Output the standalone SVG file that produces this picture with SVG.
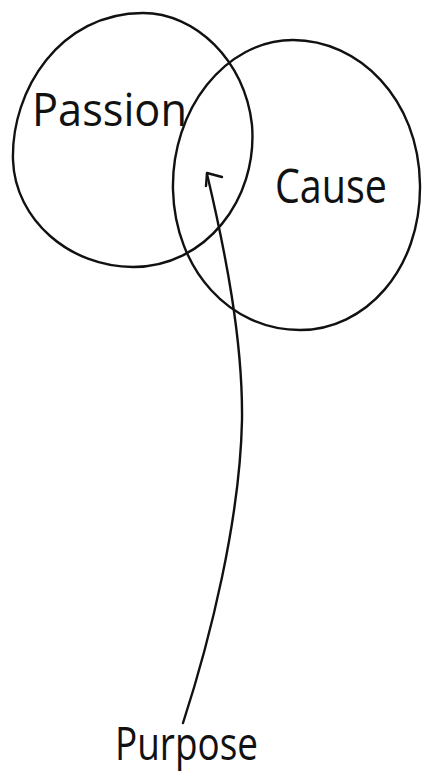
<svg xmlns="http://www.w3.org/2000/svg" width="422" height="782" viewBox="0 0 422 782">
  <style>
    .ink { fill: none; stroke: #111; stroke-width: 2.4; stroke-linecap: round; stroke-linejoin: round; }
    .lbl { font-family: "Open Sans", "Liberation Sans", sans-serif; fill: #111; font-weight: 400; }
  </style>
  <rect width="422" height="782" fill="#ffffff"/>
  <g id="passion">
    <path class="ink" d="M143,13 C195,13 245,60 252,125 C258,200 205,267 133,267 C70,267 15,220 13,160 C11,90 60,13 143,13 Z"/>
    <text class="lbl" x="32" y="126" font-size="46" textLength="155" lengthAdjust="spacingAndGlyphs">Passion</text>
  </g>
  <g id="cause">
    <path class="ink" d="M293,40 C358,40 419,98 420,185 C421,270 365,330 300,330 C230,330 175,270 173,190 C171,110 225,40 293,40 Z"/>
    <text class="lbl" x="275" y="203" font-size="48" textLength="112" lengthAdjust="spacingAndGlyphs">Cause</text>
  </g>
  <g id="purpose">
    <text class="lbl" x="115" y="760" font-size="46" textLength="143" lengthAdjust="spacingAndGlyphs">Purpose</text>
  </g>
  <g id="connectors">
    <path class="ink" d="M183,723 C210,640 240,520 242,420 C243,340 225,250 207,174"/>
    <path class="ink" d="M222,177 L207,173 L206,186"/>
  </g>
</svg>
